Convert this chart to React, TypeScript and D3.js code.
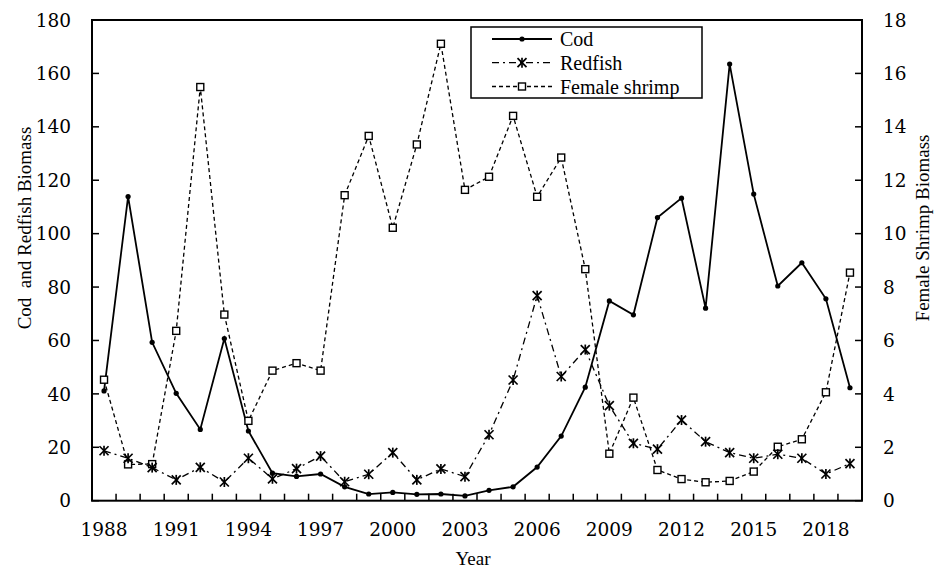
import React from "react";
import * as d3 from "d3";

const years: number[] = d3.range(1988, 2020);

const cod: number[] = [
  41.1, 113.9, 59.3, 40.2, 26.7, 60.7, 26.1, 10.3, 9.1, 10.0, 5.2, 2.5, 3.1, 2.4, 2.5, 1.8,
  3.9, 5.2, 12.6, 24.2, 42.5, 74.8, 69.6, 106.0, 113.3, 72.1, 163.5, 114.8, 80.4, 89.1, 75.6, 42.3,
];

const redfish: number[] = [
  18.7, 15.9, 12.4, 7.8, 12.5, 7.0, 15.9, 8.2, 12.0, 16.7, 7.1, 9.9, 18.0, 7.8, 11.9, 9.0,
  24.7, 45.2, 76.8, 46.5, 56.6, 35.6, 21.5, 19.3, 30.2, 22.1, 18.0, 15.9, 17.4, 15.9, 10.0, 13.9,
];

const femaleShrimp: number[] = [
  4.53, 1.36, 1.37, 6.36, 15.49, 6.97, 2.99, 4.87, 5.15, 4.87, 11.44, 13.66, 10.22, 13.34, 17.11, 11.64,
  12.13, 14.41, 11.38, 12.85, 8.67, 1.76, 3.86, 1.15, 0.81, 0.69, 0.74, 1.09, 2.02, 2.3, 4.06, 8.54,
];

const leftTicks: number[] = d3.range(0, 181, 20);
const rightTicks: number[] = d3.range(0, 19, 2);
const yearLabels: number[] = d3.range(1988, 2020, 3);
const seriesNames: string[] = ["Cod", "Redfish", "Female shrimp"];

const W = 938;
const H = 570;
const M = { left: 92, right: 862, top: 20, bottom: 500.7 };
const FONT = "'Liberation Serif', 'Times New Roman', serif";
const NUM_FONT = "'DejaVu Serif', 'Liberation Serif', serif";

function Star({ x, y }: { x: number; y: number }) {
  const s = 4.5;
  return (
    <g stroke="#000" strokeWidth={1.7}>
      <line x1={x - s} y1={y - s} x2={x + s} y2={y + s} />
      <line x1={x - s} y1={y + s} x2={x + s} y2={y - s} />
      <line x1={x} y1={y - s - 0.5} x2={x} y2={y + s + 0.5} />
    </g>
  );
}

function Square({ x, y }: { x: number; y: number }) {
  const s = 3.5;
  return <rect x={x - s} y={y - s} width={2 * s} height={2 * s} fill="#fff" stroke="#000" strokeWidth={1.4} />;
}

function Dot({ x, y }: { x: number; y: number }) {
  return <circle cx={x} cy={y} r={2.6} fill="#000" />;
}

export default function App() {
  const x = d3.scaleBand<number>().domain(years).range([M.left, M.right]).padding(0);
  const bw = x.bandwidth();
  const cx = (yr: number) => (x(yr) as number) + bw / 2;
  const yL = d3.scaleLinear().domain([0, 180]).range([M.bottom, M.top]);
  const yR = d3.scaleLinear().domain([0, 18]).range([M.bottom, M.top]);

  const lineL = d3
    .line<number>()
    .x((_, i) => cx(years[i]))
    .y((d) => yL(d));
  const lineR = d3
    .line<number>()
    .x((_, i) => cx(years[i]))
    .y((d) => yR(d));

  const boundaries = d3.range(1, years.length).map((i) => M.left + i * bw);

  const legend = { x: 471, y: 27, w: 231, h: 71 };
  const rows = [39, 62.7, 86.5];

  return (
    <svg
      width={W}
      height={H}
      style={{ position: "absolute", left: 0, top: 0, background: "#fff", fontFamily: FONT }}
    >
      <rect x={0} y={0} width={W} height={H} fill="#fff" />

      {/* series lines */}
      <path d={lineR(femaleShrimp) || ""} fill="none" stroke="#000" strokeWidth={1.3} strokeDasharray="4,3" />
      <path d={lineL(redfish) || ""} fill="none" stroke="#000" strokeWidth={1.3} strokeDasharray="7,4,2,4" />
      <path d={lineL(cod) || ""} fill="none" stroke="#000" strokeWidth={1.8} />

      {/* markers */}
      {femaleShrimp.map((v, i) => (
        <Square key={"s" + i} x={cx(years[i])} y={yR(v)} />
      ))}
      {redfish.map((v, i) => (
        <Star key={"r" + i} x={cx(years[i])} y={yL(v)} />
      ))}
      {cod.map((v, i) => (
        <Dot key={"c" + i} x={cx(years[i])} y={yL(v)} />
      ))}

      {/* frame */}
      <rect
        x={M.left}
        y={M.top}
        width={M.right - M.left}
        height={M.bottom - M.top}
        fill="none"
        stroke="#000"
        strokeWidth={2}
      />

      {/* x ticks between categories */}
      {boundaries.map((bx, i) => (
        <line key={"xt" + i} x1={bx} x2={bx} y1={M.bottom} y2={M.bottom - 7} stroke="#000" strokeWidth={1.5} />
      ))}
      {yearLabels.map((yr) => (
        <text key={"xl" + yr} x={cx(yr)} y={536} textAnchor="middle" fontSize={18.5} fontFamily={NUM_FONT} fill="#000">
          {yr}
        </text>
      ))}

      {/* left axis */}
      {leftTicks.map((t) => (
        <g key={"lt" + t}>
          <line x1={M.left} x2={M.left + 7} y1={yL(t)} y2={yL(t)} stroke="#000" strokeWidth={1.5} />
          <text x={71} y={yL(t)} dy="0.36em" textAnchor="end" fontSize={18.5} fontFamily={NUM_FONT} fill="#000">
            {t}
          </text>
        </g>
      ))}

      {/* right axis */}
      {rightTicks.map((t) => (
        <g key={"rt" + t}>
          <line x1={M.right - 7} x2={M.right} y1={yR(t)} y2={yR(t)} stroke="#000" strokeWidth={1.5} />
          <text x={883} y={yR(t)} dy="0.36em" textAnchor="start" fontSize={18.5} fontFamily={NUM_FONT} fill="#000">
            {t}
          </text>
        </g>
      ))}

      {/* axis titles */}
      <text x={473} y={565} textAnchor="middle" fontSize={19} fill="#000">
        Year
      </text>
      <text
        transform="translate(31,228) rotate(-90)"
        textAnchor="middle"
        fontSize={19}
        fill="#000"
        style={{ whiteSpace: "pre" }}
      >
        {"Cod  and Redfish Biomass"}
      </text>
      <text transform="translate(929,228) rotate(-90)" textAnchor="middle" fontSize={19} fill="#000">
        Female Shrimp Biomass
      </text>

      {/* legend */}
      <rect x={legend.x} y={legend.y} width={legend.w} height={legend.h} fill="#fff" stroke="#000" strokeWidth={1.5} />
      <line x1={492} x2={552} y1={rows[0]} y2={rows[0]} stroke="#000" strokeWidth={1.8} />
      <Dot x={522} y={rows[0]} />
      <line x1={492} x2={552} y1={rows[1]} y2={rows[1]} stroke="#000" strokeWidth={1.3} strokeDasharray="7,4,2,4" />
      <Star x={522} y={rows[1]} />
      <line x1={492} x2={552} y1={rows[2]} y2={rows[2]} stroke="#000" strokeWidth={1.3} strokeDasharray="4,3" />
      <Square x={522} y={rows[2]} />
      {seriesNames.map((s, i) => (
        <text key={s} x={560} y={rows[i]} dy="0.35em" fontSize={20} fill="#000">
          {s}
        </text>
      ))}
    </svg>
  );
}
